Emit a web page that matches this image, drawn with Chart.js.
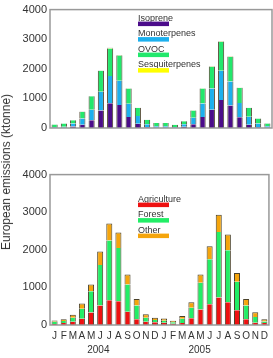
<!DOCTYPE html>
<html>
<head>
<meta charset="utf-8">
<script src="https://cdn.jsdelivr.net/npm/chart.js@4/dist/chart.umd.min.js"></script>
<style>
  body { margin: 0; background: #fff; }
  #wrap { position: relative; width: 273px; height: 358px; overflow: hidden; }
  canvas { position: absolute; left: 0; }
  #topChart { top: 0; }
  #bottomChart { top: 165px; }
  #ytitle {
    position: absolute; left: 5.5px; top: 172px;
    transform: translate(-50%, -50%) rotate(-90deg);
    font: 12px Arial, "Liberation Sans", sans-serif; color: #333; white-space: nowrap;
  }
</style>
</head>
<body>
<div id="wrap">
  <canvas id="topChart" width="273" height="165"></canvas>
  <canvas id="bottomChart" width="273" height="193"></canvas>
  <div id="ytitle">European emissions (ktonne)</div>
</div>
<script>
const months = ['J', 'F', 'M', 'A', 'M', 'J', 'J', 'A', 'S', 'O', 'N', 'D',
                'J', 'F', 'M', 'A', 'M', 'J', 'J', 'A', 'S', 'O', 'N', 'D'];
const years = ['2004', '2005'];
const yTicks = [0, 1000, 2000, 3000, 4000];

// top panel, by compound (ktonne)
const isoprene = [5, 5, 50, 110, 260, 590, 835, 775, 370, 140, 25, 10,
                  10, 5, 40, 130, 370, 620, 950, 760, 360, 110, 25, 10];
const monoterpenes = [30, 40, 100, 210, 360, 635, 925, 820, 450, 265, 105, 50,
                      50, 30, 90, 215, 460, 715, 980, 810, 485, 270, 130, 50];
const ovoc = [85, 105, 110, 230, 450, 705, 930, 855, 515, 275, 145, 110,
              110, 75, 100, 250, 505, 735, 980, 825, 515, 300, 165, 95];
const sesquiterpenes = [2, 2, 3, 5, 10, 15, 20, 20, 10, 5, 3, 2,
                        2, 2, 3, 5, 10, 15, 20, 20, 10, 5, 3, 2];

// bottom panel, by source (ktonne)
const agriculture = [25, 50, 85, 165, 330, 520, 660, 630, 355, 155, 85, 70,
                     60, 35, 50, 180, 415, 555, 730, 605, 390, 155, 60, 50];
const forest = [60, 55, 105, 270, 570, 1075, 1590, 1415, 725, 365, 105, 60,
                55, 40, 115, 280, 710, 1195, 1745, 1385, 760, 365, 155, 45];
const other = [35, 50, 85, 135, 180, 360, 450, 415, 260, 170, 95, 60,
               55, 35, 75, 145, 215, 345, 460, 415, 235, 170, 125, 60];

const FONT = 'Arial, "Liberation Sans", sans-serif';
const TEXT = '#333';
const EDGE = 'rgba(55,45,20,0.9)';

// little legend drawn inside the plot: label text with a colour bar under it
const boxLegend = {
  id: 'boxLegend',
  afterDatasetsDraw(chart, args, opts) {
    const ctx = chart.ctx;
    const x = chart.chartArea.left + opts.x;
    let y = chart.chartArea.top + opts.y;
    ctx.save();
    ctx.font = '9px ' + FONT;
    ctx.textBaseline = 'alphabetic';
    chart.data.datasets.forEach((ds) => {
      ctx.fillStyle = TEXT;
      ctx.fillText(ds.label, x, y);
      ctx.fillStyle = ds.backgroundColor;
      ctx.fillRect(x, y + 1, 31, 4.5);
      y += 15.5;
    });
    ctx.restore();
  }
};

// grey box round the plot area
const frame = {
  id: 'frame',
  afterDraw(chart) {
    const a = chart.chartArea;
    const ctx = chart.ctx;
    ctx.save();
    ctx.strokeStyle = '#999';
    ctx.lineWidth = 1.5;
    ctx.strokeRect(a.left, a.top, a.right - a.left, a.bottom - a.top);
    ctx.restore();
  }
};

// year labels under the month letters
const yearLabels = {
  id: 'yearLabels',
  afterDraw(chart, args, opts) {
    if (!opts.at) return;
    const xs = chart.scales.x;
    const step = xs.getPixelForValue(1) - xs.getPixelForValue(0);
    const ctx = chart.ctx;
    ctx.save();
    ctx.font = '10px ' + FONT;
    ctx.fillStyle = TEXT;
    ctx.textAlign = 'center';
    ctx.textBaseline = 'middle';
    years.forEach((yr, i) => {
      ctx.fillText(yr, xs.getPixelForValue(0) + opts.at[i] * step, opts.y);
    });
    ctx.restore();
  }
};

function makeSet(label, data, color, isTop) {
  return {
    label: label,
    data: data,
    backgroundColor: color,
    borderColor: EDGE,
    borderWidth: isTop ? { left: 1, right: 1, top: 1, bottom: 0 } : { left: 1, right: 1, top: 0, bottom: 0 },
    borderSkipped: false,
    barPercentage: 0.66,
    categoryPercentage: 1,
  };
}

function makeChart(el, datasets, showX, padding, legendPos, yearPos) {
  return new Chart(document.getElementById(el), {
    type: 'bar',
    data: { labels: months, datasets: datasets },
    plugins: [boxLegend, frame, yearLabels],
    options: {
      responsive: false,
      animation: false,
      layout: { padding: padding },
      plugins: {
        legend: { display: false },
        tooltip: { enabled: false },
        boxLegend: legendPos,
        yearLabels: yearPos,
      },
      scales: {
        x: {
          stacked: true,
          display: showX,
          grid: { display: false, drawTicks: false },
          border: { display: false },
          ticks: {
            color: TEXT, font: { family: FONT, size: 10 },
            padding: 5, autoSkip: false, maxRotation: 0,
          },
          afterFit: (s) => { s.height = 33; },
        },
        y: {
          stacked: true,
          min: yTicks[0],
          max: yTicks[yTicks.length - 1],
          grid: { display: false, drawTicks: false },
          border: { display: false },
          afterBuildTicks: (s) => { s.ticks = yTicks.map((v) => ({ value: v })); },
          ticks: {
            color: TEXT, font: { family: FONT, size: 11 }, padding: 3,
            callback: (v) => String(v),
          },
          afterFit: (s) => { s.width = 50; },
        },
      },
    },
  });
}

makeChart('topChart', [
  makeSet('Isoprene', isoprene, '#4b0c8a', false),
  makeSet('Monoterpenes', monoterpenes, '#1cb0ee', false),
  makeSet('OVOC', ovoc, '#22e86c', false),
  makeSet('Sesquiterpenes', sesquiterpenes, '#ffff00', true),
], false, { top: 6, right: 1, bottom: 4, left: 0 }, { x: 88, y: 11 }, {});

makeChart('bottomChart', [
  makeSet('Agriculture', agriculture, '#ee1111', false),
  makeSet('Forest', forest, '#22ee66', false),
  makeSet('Other', other, '#f5a50c', true),
], true, { top: 5, right: 1, bottom: 0, left: 0 }, { x: 88, y: 27 }, { at: [4.8, 15.9], y: 185 });
</script>
</body>
</html>
